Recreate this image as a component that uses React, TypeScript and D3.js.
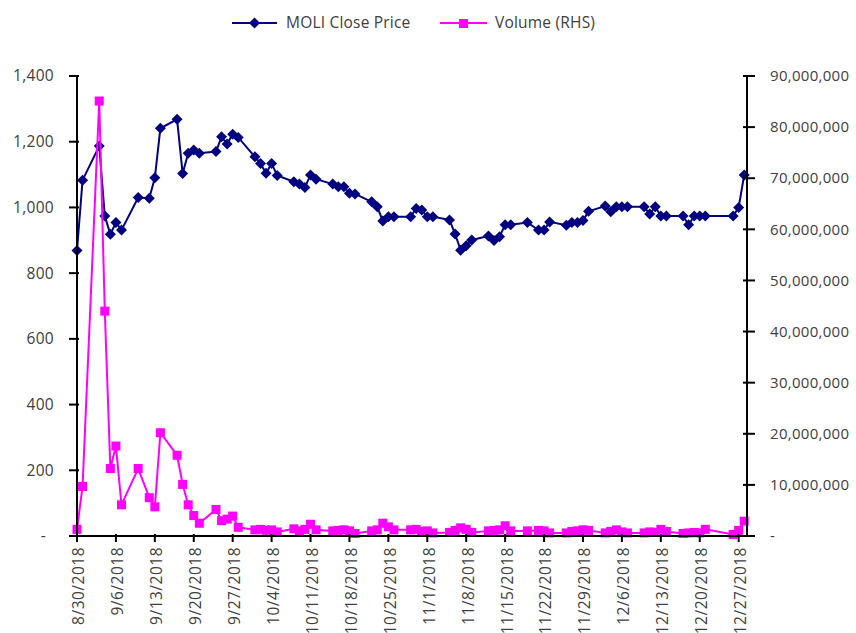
import React from "react";
import * as d3 from "d3";

const dates = [
  "2018-08-30","2018-08-31","2018-09-03","2018-09-04","2018-09-05","2018-09-06","2018-09-07",
  "2018-09-10","2018-09-12","2018-09-13","2018-09-14","2018-09-17","2018-09-18","2018-09-19",
  "2018-09-20","2018-09-21","2018-09-24","2018-09-25","2018-09-26","2018-09-27","2018-09-28",
  "2018-10-01","2018-10-02","2018-10-03","2018-10-04","2018-10-05","2018-10-08","2018-10-09",
  "2018-10-10","2018-10-11","2018-10-12","2018-10-15","2018-10-16","2018-10-17","2018-10-18",
  "2018-10-19","2018-10-22","2018-10-23","2018-10-24","2018-10-25","2018-10-26","2018-10-29",
  "2018-10-30","2018-10-31","2018-11-01","2018-11-02","2018-11-05","2018-11-06","2018-11-07",
  "2018-11-08","2018-11-09","2018-11-12","2018-11-13","2018-11-14","2018-11-15","2018-11-16",
  "2018-11-19","2018-11-21","2018-11-22","2018-11-23","2018-11-26","2018-11-27","2018-11-28",
  "2018-11-29","2018-11-30","2018-12-03","2018-12-04","2018-12-05","2018-12-06","2018-12-07",
  "2018-12-10","2018-12-11","2018-12-12","2018-12-13","2018-12-14","2018-12-17","2018-12-18",
  "2018-12-19","2018-12-20","2018-12-21","2018-12-26","2018-12-27","2018-12-28",
];

const closePrice = [
  869, 1083, 1187, 974, 918, 954, 931,
  1030, 1028, 1090, 1241, 1268, 1103, 1165,
  1175, 1165, 1170, 1215, 1193, 1223, 1213,
  1154, 1134, 1104, 1134, 1097, 1078, 1071,
  1061, 1099, 1086, 1071, 1063, 1063, 1043,
  1041, 1017, 1002, 959, 972, 972, 972,
  997, 992, 972, 972, 962, 919, 870,
  883, 901, 913, 899, 911, 947, 947,
  954, 931, 931, 956, 946, 954, 954,
  960, 988, 1004, 987, 1002, 1002, 1002,
  1002, 980, 1002, 974, 974, 974, 947,
  974, 974, 974, 974, 1000, 1099,
];

const volume = [
  1.3, 9.7, 85.1, 44.0, 13.2, 17.6, 6.1,
  13.2, 7.5, 5.7, 20.2, 15.8, 10.1, 6.1,
  4.0, 2.5, 5.2, 3.0, 3.3, 3.9, 1.7,
  1.2, 1.3, 1.1, 1.2, 0.8, 1.4, 1.0,
  1.3, 2.3, 1.2, 1.0, 1.1, 1.2, 1.0,
  0.5, 1.0, 1.2, 2.5, 1.8, 1.2, 1.2,
  1.3, 0.9, 1.0, 0.6, 0.7, 1.1, 1.6,
  1.3, 0.7, 1.0, 1.1, 1.2, 2.0, 1.0,
  1.0, 1.1, 1.0, 0.6, 0.6, 0.9, 1.0,
  1.2, 1.1, 0.6, 0.9, 1.2, 0.8, 0.6,
  0.6, 0.8, 0.7, 1.3, 0.9, 0.5, 0.6,
  0.7, 0.6, 1.3, 0.3, 1.1, 2.9,
].map((v) => v * 1e6);

const xTickLabels = [
  "8/30/2018","9/6/2018","9/13/2018","9/20/2018","9/27/2018","10/4/2018","10/11/2018",
  "10/18/2018","10/25/2018","11/1/2018","11/8/2018","11/15/2018","11/22/2018","11/29/2018",
  "12/6/2018","12/13/2018","12/20/2018","12/27/2018",
];
const leftTicks = [0, 200, 400, 600, 800, 1000, 1200, 1400];
const rightTicks = [0, 10e6, 20e6, 30e6, 40e6, 50e6, 60e6, 70e6, 80e6, 90e6];

const seriesNames = ["MOLI Close Price", "Volume (RHS)"];

const parse = (s: string) => {
  const [y, m, d] = s.split("-").map(Number);
  return new Date(y, m - 1, d);
};
const parseMDY = (s: string) => {
  const [m, d, y] = s.split("/").map(Number);
  return new Date(y, m - 1, d);
};

const FONT = "'Open Sans', 'Noto Sans', sans-serif";
const TEXT = "#404040";
const NAVY = "#000080";
const MAGENTA = "#FF00FF";

export default function App() {
  const W = 856, H = 633;
  const left = 77, right = 747, top = 76, bottom = 536;

  const x = d3.scaleTime()
    .domain([new Date(2018, 7, 30), new Date(2018, 11, 28, 12)])
    .range([left, right]);
  const yL = d3.scaleLinear().domain([0, 1400]).range([bottom, top]);
  const yR = d3.scaleLinear().domain([0, 90e6]).range([bottom, top]);

  const dd = dates.map(parse);
  const priceLine = d3.line<number>().x((_, i) => x(dd[i])).y((v) => yL(v))(closePrice) || "";
  const volLine = d3.line<number>().x((_, i) => x(dd[i])).y((v) => yR(v))(volume) || "";

  const fmt = d3.format(",");
  const diamond = (cx: number, cy: number, r: number) =>
    `M${cx},${cy - r}L${cx + r},${cy}L${cx},${cy + r}L${cx - r},${cy}Z`;

  return (
    <div style={{ position: "absolute", left: 0, top: 0 }}>
      <svg width={W} height={H} style={{ display: "block", background: "#fff" }} fontFamily={FONT}>
        {/* legend */}
        <g>
          <line x1={232} x2={277} y1={23} y2={23} stroke={NAVY} strokeWidth={2} />
          <path d={diamond(254.5, 23, 5.5)} fill={NAVY} />
          <text x={286} y={23} dy="0.35em" fontSize={15.5} fill={TEXT} letterSpacing={0.2}>{seriesNames[0]}</text>
          <line x1={440} x2={487} y1={23} y2={23} stroke={MAGENTA} strokeWidth={2} />
          <rect x={459} y={19} width={9} height={9} fill={MAGENTA} />
          <text x={495} y={23} dy="0.35em" fontSize={15.5} fill={TEXT} letterSpacing={0.2}>{seriesNames[1]}</text>
        </g>

        {/* price series */}
        <path d={priceLine} fill="none" stroke={NAVY} strokeWidth={2} />
        {closePrice.map((v, i) => (
          <path key={"p" + i} d={diamond(x(dd[i]), yL(v), 5.5)} fill={NAVY} />
        ))}

        {/* volume series */}
        <path d={volLine} fill="none" stroke={MAGENTA} strokeWidth={2} />
        {volume.map((v, i) => (
          <rect key={"v" + i} x={x(dd[i]) - 4.5} y={yR(v) - 4.5} width={9} height={9} fill={MAGENTA} />
        ))}

        {/* axes */}
        <line x1={left} x2={left} y1={top} y2={bottom + 1} stroke="#000" strokeWidth={2} />
        <line x1={right} x2={right} y1={top} y2={bottom + 1} stroke="#000" strokeWidth={2} />
        <line x1={left} x2={right} y1={bottom} y2={bottom} stroke="#000" strokeWidth={2} />

        {leftTicks.map((t) => (
          <g key={"l" + t}>
            <line x1={left - 8} x2={left + 2} y1={yL(t)} y2={yL(t)} stroke="#000" strokeWidth={2} />
            <text x={t === 0 ? 46 : 54} y={yL(t)} dy="0.35em" textAnchor="end" fontSize={15.5} fill={TEXT} letterSpacing={0.3}>
              {t === 0 ? "-" : fmt(t)}
            </text>
          </g>
        ))}
        {rightTicks.map((t) => (
          <g key={"r" + t}>
            <line x1={right - 4} x2={right + 8} y1={yR(t)} y2={yR(t)} stroke="#000" strokeWidth={2} />
            <text x={770} y={yR(t)} dy="0.35em" textAnchor="start" fontSize={15} fill={TEXT} letterSpacing={0.3}>
              {t === 0 ? "-" : fmt(t)}
            </text>
          </g>
        ))}
        {xTickLabels.map((s) => {
          const tx = x(parseMDY(s));
          return (
            <g key={s}>
              <line x1={tx} x2={tx} y1={bottom - 2} y2={bottom + 6} stroke="#000" strokeWidth={2} />
              <text
                transform={`translate(${tx + 2},${547}) rotate(-90)`}
                dy="0.35em"
                textAnchor="end"
                fontSize={15.5}
                fill={TEXT}
                letterSpacing={0.5}
              >
                {s}
              </text>
            </g>
          );
        })}
      </svg>
    </div>
  );
}
